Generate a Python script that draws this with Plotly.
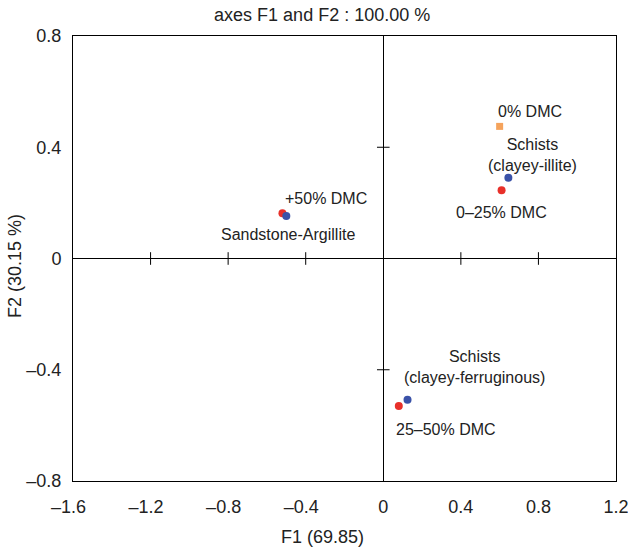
import plotly.graph_objects as go

# Data
dmc_labels = ["0% DMC", "0–25% DMC", "+50% DMC", "25–50% DMC"]
dmc_x = [0.60, 0.61, -0.52, 0.08]
dmc_y = [0.475, 0.245, 0.163, -0.53]
dmc_colors = ["#F5A35C", "#E8302A", "#E8302A", "#E8302A"]
dmc_symbols = ["square", "circle", "circle", "circle"]

rock_labels = ["Schists<br>(clayey-illite)", "Sandstone-Argillite", "Schists<br>(clayey-ferruginous)"]
rock_x = [0.645, -0.50, 0.125]
rock_y = [0.29, 0.153, -0.508]

x_ticks = [-1.6, -1.2, -0.8, -0.4, 0, 0.4, 0.8, 1.2]
y_ticks = [-0.8, -0.4, 0, 0.4, 0.8]

def fmt(v, pad=False):
    if v == 0:
        return "0"
    s = f"{abs(v):.1f}"
    if v < 0:
        return "–" + s + ("\u2002" if pad else "")
    return s

FAM = "Liberation Sans, Arial, sans-serif"
TXT = "#222"
fig = go.Figure()

# cross ticks on zero axes
inner_x = [v for v in x_ticks if v not in (0, -1.6, 1.2)]
inner_y = [v for v in y_ticks if v not in (0, -0.8, 0.8)]
fig.add_trace(go.Scatter(x=inner_x, y=[0] * len(inner_x), mode="markers",
                         marker=dict(symbol="line-ns", size=9, line=dict(color="black", width=1)),
                         hoverinfo="skip", showlegend=False))
fig.add_trace(go.Scatter(x=[0] * len(inner_y), y=inner_y, mode="markers",
                         marker=dict(symbol="line-ew", size=9, line=dict(color="black", width=1)),
                         hoverinfo="skip", showlegend=False))

fig.add_trace(go.Scatter(x=dmc_x, y=dmc_y, mode="markers",
                         marker=dict(color=dmc_colors, symbol=dmc_symbols, size=[7, 8, 8, 8],
                                     line=dict(width=0), opacity=1),
                         showlegend=False))
fig.add_trace(go.Scatter(x=rock_x, y=rock_y, mode="markers",
                         marker=dict(color="#3A52A8", size=8, line=dict(width=0), opacity=1),
                         showlegend=False))

fnt = dict(family=FAM, size=16, color=TXT)
dmc_ann = [
    dict(xanchor="left", yanchor="middle", xshift=-4, yshift=15),
    dict(xanchor="center", yanchor="middle", xshift=0, yshift=-22),
    dict(xanchor="left", yanchor="middle", xshift=1, yshift=15),
    dict(xanchor="left", yanchor="middle", xshift=-5, yshift=-24),
]
for lab, x, y, a in zip(dmc_labels, dmc_x, dmc_y, dmc_ann):
    fig.add_annotation(x=x, y=y, text=lab, showarrow=False, font=fnt, **a)

rock_ann = [
    dict(xanchor="center", yanchor="bottom", xshift=24, yshift=2),
    dict(xanchor="center", yanchor="middle", xshift=2, yshift=-19),
    dict(xanchor="center", yanchor="bottom", xshift=67, yshift=12),
]
for lab, x, y, a in zip(rock_labels, rock_x, rock_y, rock_ann):
    fig.add_annotation(x=x, y=y, text=lab, showarrow=False, font=fnt, **a)

# axis titles (placed as in the reference, slightly left of the axis centre)
fig.add_annotation(xref="paper", yref="paper", x=0.4586, y=0, yshift=-56,
                   xanchor="center", yanchor="middle", text="F1 (69.85)", showarrow=False,
                   font=dict(family=FAM, size=18, color=TXT))
fig.add_annotation(xref="paper", yref="paper", x=0, y=0.483, xshift=-58,
                   xanchor="center", yanchor="middle", text="F2 (30.15 %)", textangle=-90,
                   showarrow=False, font=dict(family=FAM, size=18, color=TXT))

axis_common = dict(showgrid=False, showline=True, linecolor="black", linewidth=1, mirror=True,
                   zeroline=True, zerolinecolor="black", zerolinewidth=1,
                   ticks="outside", tickcolor="rgba(0,0,0,0)",
                   automargin=False, ticklabeloverflow="allow",
                   tickfont=dict(family=FAM, size=18, color=TXT))

fig.update_layout(
    width=628, height=549,
    margin=dict(l=73, r=12, t=36, b=68),
    plot_bgcolor="white", paper_bgcolor="white",
    title=dict(text="axes F1 and F2 : 100.00 %", x=0.513, xanchor="center", y=0.973, yanchor="middle",
               font=dict(family=FAM, size=18, color=TXT)),
    xaxis=dict(range=[-1.6, 1.2], tickvals=x_ticks, ticktext=[fmt(v, pad=True) for v in x_ticks], ticklen=9,
               **axis_common),
    yaxis=dict(range=[-0.8, 0.8], tickvals=y_ticks, ticktext=[fmt(v) for v in y_ticks], ticklen=7,
               **axis_common),
)

# remove the browser's default 8px body margin so the figure sits at the page origin
fig.write_html("out.html", config={"displayModeBar": False},
               post_script="document.body.style.margin='0';")
